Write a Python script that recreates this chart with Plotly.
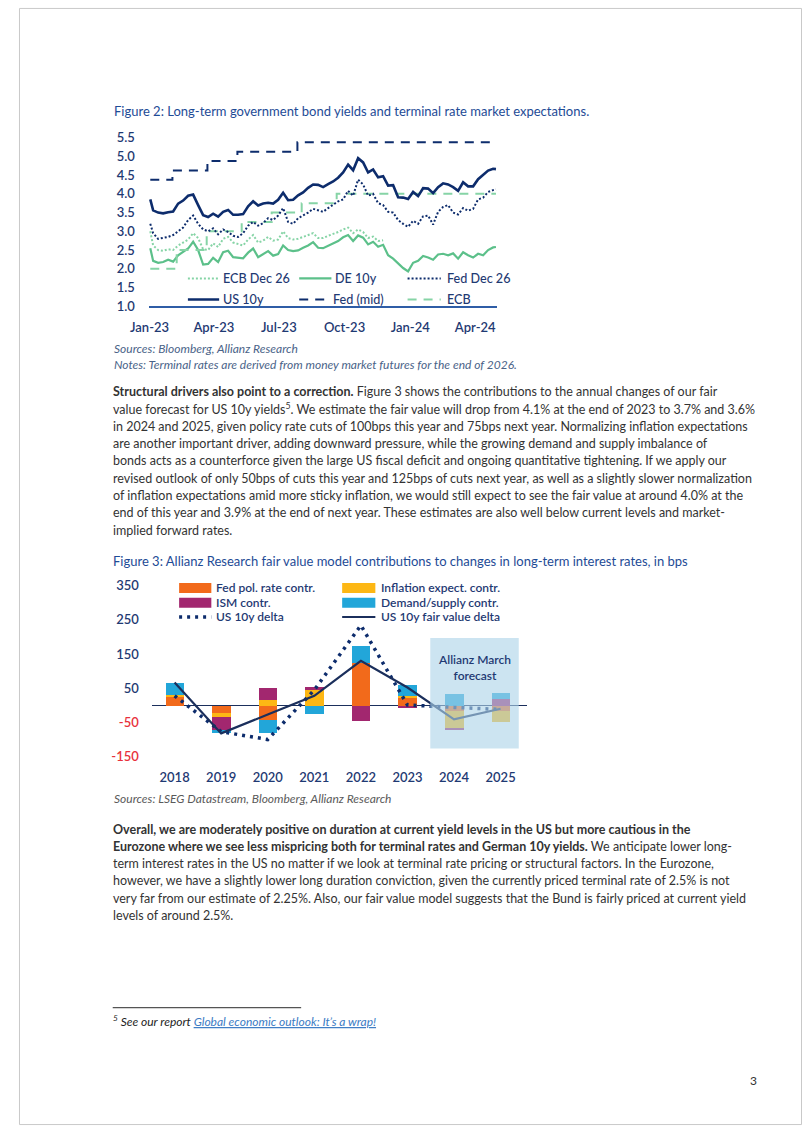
import plotly.graph_objects as go
import pandas as pd

W, H = 802, 1133
FONT = "Lato"
NAVY = "#0d2c6c"
NAVY_T = "#1f3a73"
GREEN = "#5cc08a"
GREEN_L = "#86d4a6"
TITLE_BLUE = "#1e4b96"
BODY = "#333333"


def X(p):
    return p / W


def Y(p):
    return 1 - p / H


# ---------------- Figure 2 data (weekly readings) ----------------
dates = (["2023-01-02"]
         + [d.strftime("%Y-%m-%d") for d in pd.date_range("2023-01-06", "2024-04-26", freq="W-FRI")]
         + ["2024-04-30"])

us10y = [3.85, 3.56, 3.50, 3.48, 3.51, 3.53, 3.74, 3.82, 3.95, 3.98, 3.70, 3.43, 3.38, 3.47, 3.39, 3.52,
         3.57, 3.44, 3.44, 3.46, 3.67, 3.80, 3.69, 3.74, 3.76, 3.74, 3.84, 4.03, 3.83, 3.84, 3.96, 4.04,
         4.16, 4.25, 4.24, 4.18, 4.26, 4.33, 4.43, 4.57, 4.78, 4.63, 4.95, 4.84, 4.57, 4.65, 4.44, 4.47,
         4.22, 4.23, 3.91, 3.90, 3.86, 4.05, 3.94, 4.15, 4.14, 4.02, 4.18, 4.28, 4.25, 4.18, 4.08, 4.31,
         4.20, 4.20, 4.39, 4.50, 4.62, 4.67, 4.66]

de10y = [2.55, 2.21, 2.16, 2.18, 2.24, 2.19, 2.36, 2.46, 2.54, 2.72, 2.50, 2.11, 2.13, 2.29, 2.18, 2.44,
         2.48, 2.31, 2.29, 2.28, 2.43, 2.54, 2.31, 2.38, 2.47, 2.35, 2.39, 2.62, 2.50, 2.47, 2.49, 2.56,
         2.62, 2.71, 2.56, 2.55, 2.61, 2.67, 2.74, 2.84, 2.90, 2.74, 2.89, 2.83, 2.65, 2.72, 2.59, 2.64,
         2.36, 2.27, 2.14, 2.02, 1.93, 2.16, 2.21, 2.34, 2.30, 2.24, 2.38, 2.40, 2.36, 2.41, 2.27, 2.44,
         2.36, 2.30, 2.40, 2.36, 2.50, 2.57, 2.58]

fed_dec26 = [3.20, 2.95, 2.80, 2.82, 2.85, 2.90, 3.00, 3.10, 3.30, 3.42, 3.20, 3.05, 3.00, 3.08, 2.92, 3.05,
             2.98, 2.88, 2.85, 2.95, 3.15, 3.25, 3.15, 3.22, 3.35, 3.30, 3.42, 3.62, 3.25, 3.20, 3.35, 3.42,
             3.50, 3.60, 3.55, 3.52, 3.62, 3.72, 3.80, 3.85, 4.08, 3.95, 4.38, 4.25, 3.95, 4.00, 3.75, 3.70,
             3.52, 3.50, 3.30, 3.20, 3.12, 3.28, 3.20, 3.40, 3.42, 3.18, 3.52, 3.65, 3.70, 3.50, 3.45, 3.62,
             3.55, 3.60, 3.85, 3.90, 4.05, 4.10, 4.12]

ecb_dec26 = [3.00, 2.62, 2.50, 2.48, 2.52, 2.50, 2.62, 2.70, 2.78, 2.95, 2.82, 2.52, 2.50, 2.68, 2.58, 2.80,
             2.85, 2.70, 2.65, 2.62, 2.78, 2.90, 2.70, 2.75, 2.85, 2.75, 2.78, 3.00, 2.82, 2.78, 2.80, 2.85,
             2.88, 2.95, 2.82, 2.82, 2.88, 2.92, 2.98, 3.05, 3.10, 2.95, 3.05, 2.98, 2.82, 2.86, 2.74, 2.76]

fed_mid_dates = ["2023-01-02", "2023-02-02", "2023-03-23", "2023-05-04", "2023-07-27", "2024-04-30"]
fed_mid = [4.375, 4.625, 4.875, 5.125, 5.375, 5.375]

ecb_dates = ["2023-01-02", "2023-02-08", "2023-03-22", "2023-05-10", "2023-06-21", "2023-08-02",
             "2023-09-20", "2024-04-30"]
ecb = [2.00, 2.50, 3.00, 3.25, 3.50, 3.75, 4.00, 4.00]

fig2_yticks = [1.0, 1.5, 2.0, 2.5, 3.0, 3.5, 4.0, 4.5, 5.0, 5.5]

# ---------------- Figure 3 data (bps) ----------------
years = ["2018", "2019", "2020", "2021", "2022", "2023", "2024", "2025"]
fed_contr = [27, -22, -42, 0, 125, 23, -15, -17]
infl_contr = [3, -12, 16, 46, 0, 5, -50, -31]
ism_contr = [0, -38, 36, 8, -46, -8, -8, 19]
demand_contr = [37, -9, -38, -25, 50, 32, 33, 19]
us10y_delta = [28, -77, -100, 45, 234, 1, -6, -12]
fair_value_delta = [67, -82, -27, 28, 130, 52, -41, -10]
fig3_yticks = [350, 250, 150, 50, -50, -150]

ORANGE = "#f26a1b"
YELLOW = "#fdb714"
PURPLE = "#a2276f"
CYAN = "#22a6d9"
RED = "#e8313c"

fig = go.Figure()

# ---- Figure 2 traces
fig.add_trace(go.Scatter(x=dates, y=de10y, mode="lines", name="DE 10y",
                         line=dict(color=GREEN, width=2.2), xaxis="x", yaxis="y"))
fig.add_trace(go.Scatter(x=dates[:len(ecb_dec26)], y=ecb_dec26, mode="lines", name="ECB Dec 26",
                         line=dict(color=GREEN_L, width=2, dash="2px,2px"), xaxis="x", yaxis="y"))
fig.add_trace(go.Scatter(x=ecb_dates, y=ecb, mode="lines", name="ECB", line_shape="hv",
                         line=dict(color=GREEN_L, width=2, dash="9px,7px"), xaxis="x", yaxis="y"))
fig.add_trace(go.Scatter(x=dates, y=fed_dec26, mode="lines", name="Fed Dec 26",
                         line=dict(color=NAVY, width=2, dash="2px,2px"), xaxis="x", yaxis="y"))
fig.add_trace(go.Scatter(x=fed_mid_dates, y=fed_mid, mode="lines", name="Fed (mid)", line_shape="hv",
                         line=dict(color=NAVY, width=2, dash="9px,7px"), xaxis="x", yaxis="y"))
fig.add_trace(go.Scatter(x=dates, y=us10y, mode="lines", name="US 10y",
                         line=dict(color=NAVY, width=2.6), xaxis="x", yaxis="y"))

# ---- Figure 3 traces
for name, vals, col in [("Fed pol. rate contr.", fed_contr, ORANGE),
                        ("Inflation expect. contr.", infl_contr, YELLOW),
                        ("ISM contr.", ism_contr, PURPLE),
                        ("Demand/supply contr.", demand_contr, CYAN)]:
    fig.add_trace(go.Bar(x=years, y=vals, name=name, marker=dict(color=col, line=dict(width=0)),
                         width=0.4, xaxis="x2", yaxis="y2"))
fig.add_trace(go.Scatter(x=years, y=us10y_delta, mode="lines", name="US 10y delta",
                         line=dict(color=NAVY, width=3.5, dash="3px,5px"), xaxis="x2", yaxis="y2"))
fig.add_trace(go.Scatter(x=years, y=fair_value_delta, mode="lines", name="US 10y fair value delta",
                         line=dict(color="#1b2f5c", width=2.2), xaxis="x2", yaxis="y2"))

shapes = []
annotations = []


def txt(x, y, s, size=12.5, color=BODY, weight=400, italic=False, xanchor="left"):
    annotations.append(dict(x=X(x), y=Y(y), xref="paper", yref="paper", text=s, showarrow=False,
                            xanchor=xanchor, yanchor="middle", align="left", borderpad=0,
                            font=dict(family=FONT, size=size, color=color, weight=weight,
                                      style="italic" if italic else "normal")))


def legline(x0, x1, y, color, width, dash="solid"):
    shapes.append(dict(type="line", xref="paper", yref="paper", x0=X(x0), x1=X(x1), y0=Y(y), y1=Y(y),
                       line=dict(color=color, width=width, dash=dash)))


def legbox(x0, x1, y, color):
    shapes.append(dict(type="rect", xref="paper", yref="paper", x0=X(x0), x1=X(x1), y0=Y(y - 5),
                       y1=Y(y + 5), fillcolor=color, line=dict(width=0)))


# page frame
shapes.append(dict(type="rect", xref="paper", yref="paper", x0=0.0006, x1=0.9994, y0=0.0004, y1=0.9996,
                   line=dict(color="#c9c9c9", width=1)))

# ---- Figure 2 text + legend
txt(96, 104, "Figure 2: Long-term government bond yields and terminal rate market expectations.", 13,
    TITLE_BLUE)
LG = dict(size=12.6, color=NAVY_T, weight=500)
legline(173, 205, 274.3, GREEN_L, 2, "2px,2px")
txt(208, 274.3, "ECB Dec 26", **LG)
legline(287, 320, 274.3, GREEN, 2.2)
txt(323, 274.3, "DE 10y", **LG)
legline(398, 432, 274.3, NAVY, 2, "2px,2px")
txt(437, 274.3, "Fed Dec 26", **LG)
legline(173, 205, 295.7, NAVY, 2.6)
txt(208, 295.7, "US 10y", **LG)
legline(287, 317, 295.7, NAVY, 2, "9px,7px")
txt(321, 295.7, "Fed (mid)", **LG)
legline(398, 432, 295.7, GREEN_L, 2, "9px,7px")
txt(437, 295.7, "ECB", **LG)

txt(96, 345, "Sources: Bloomberg, Allianz Research", 12, "#4a6388", italic=True)
txt(96, 362, "Notes: Terminal rates are derived from money market futures for the end of 2026.", 12,
    "#4a6388", italic=True)

# ---- Paragraph 1
para1 = [
    "<b>Structural drivers also point to a correction.</b> Figure 3 shows the contributions to the annual changes of our fair",
    "value forecast for US 10y yields<sup>5</sup>. We estimate the fair value will drop from 4.1% at the end of 2023 to 3.7% and 3.6%",
    "in 2024 and 2025, given policy rate cuts of 100bps this year and 75bps next year. Normalizing inflation expectations",
    "are another important driver, adding downward pressure, while the growing demand and supply imbalance of",
    "bonds acts as a counterforce given the large US fiscal deficit and ongoing quantitative tightening. If we apply our",
    "revised outlook of only 50bps of cuts this year and 125bps of cuts next year, as well as a slightly slower normalization",
    "of inflation expectations amid more sticky inflation, we would still expect to see the fair value at around 4.0% at the",
    "end of this year and 3.9% at the end of next year. These estimates are also well below current levels and market-",
    "implied forward rates.",
]
for i, line in enumerate(para1):
    txt(95, 389 + i * 17.6, line)

# ---- Figure 3 text + legend
txt(95, 561, "Figure 3: Allianz Research fair value model contributions to changes in long-term interest rates, in bps",
    13, TITLE_BLUE)
LG3 = dict(size=12, color=NAVY_T, weight=600)
legbox(164, 197, 588.3, ORANGE)
txt(201, 588.3, "Fed pol. rate contr.", **LG3)
legbox(331, 365, 588.3, YELLOW)
txt(370, 588.3, "Inflation expect. contr.", **LG3)
legbox(164, 197, 603.3, PURPLE)
txt(201, 603.3, "ISM contr.", **LG3)
legbox(331, 365, 603.3, CYAN)
txt(370, 603.3, "Demand/supply contr.", **LG3)
legline(164, 197, 617.7, NAVY, 3.5, "3px,5px")
txt(201, 617.7, "US 10y delta", **LG3)
legline(331, 365, 617.7, "#1b2f5c", 2.2)
txt(370, 617.7, "US 10y fair value delta", **LG3)

# forecast box (overlay, data coords of figure 3)
shapes.append(dict(type="rect", xref="x2", yref="y2", x0=5.49, x1=7.39, y0=-126, y1=197,
                   fillcolor="rgba(172,211,232,0.62)", line=dict(width=0), layer="above"))
annotations.append(dict(x=6.44, xref="x2", y=Y(668.5), yref="paper", text="Allianz March<br>forecast",
                        showarrow=False, xanchor="center", yanchor="middle", align="center",
                        font=dict(family=FONT, size=12, color=NAVY_T, weight=600)))

txt(96, 802, "Sources: LSEG Datastream, Bloomberg, Allianz Research", 12, "#5a5a5a", italic=True)

# ---- Paragraph 2
para2 = [
    "<b>Overall, we are moderately positive on duration at current yield levels in the US but more cautious in the</b>",
    "<b>Eurozone where we see less mispricing both for terminal rates and German 10y yields.</b> We anticipate lower long-",
    "term interest rates in the US no matter if we look at terminal rate pricing or structural factors. In the Eurozone,",
    "however, we have a slightly lower long duration conviction, given the currently priced terminal rate of 2.5% is not",
    "very far from our estimate of 2.25%. Also, our fair value model suggests that the Bund is fairly priced at current yield",
    "levels of around 2.5%.",
]
for i, line in enumerate(para2):
    txt(95, 833 + i * 17.5, line)

# ---- Footnote
shapes.append(dict(type="line", xref="paper", yref="paper", x0=X(96), x1=X(289), y0=Y(1014), y1=Y(1014),
                   line=dict(color="#555555", width=1.2)))
txt(95, 1028, "<sup>5</sup> See our report <span style='color:#3b7bc4'><u>Global economic outlook: It’s a wrap!</u></span>",
    12, "#222222", italic=True)
txt(748, 1088, "3", 12, BODY)

fig.update_layout(
    width=W, height=H, autosize=False,
    margin=dict(l=0, r=0, t=0, b=0),
    paper_bgcolor="white", plot_bgcolor="rgba(0,0,0,0)",
    showlegend=False, barmode="relative", bargap=0,
    font=dict(family=FONT),
    shapes=shapes, annotations=annotations,
    xaxis=dict(domain=[X(133), X(490)], anchor="y", type="date",
               range=["2022-12-31", "2024-05-02"], tick0="2023-01-01", dtick="M3", tickformat="%b-%y",
               showgrid=False, zeroline=False, showline=True, linecolor="#2f5da6", linewidth=1.6,
               ticks="", ticklabelstandoff=8,
               tickfont=dict(family=FONT, size=13, color=NAVY_T, weight=600)),
    yaxis=dict(domain=[Y(302.5), Y(131.5)], anchor="x", range=[1.0, 5.5],
               tickvals=fig2_yticks, tickformat=".1f",
               showgrid=False, zeroline=False, showline=False, ticks="", ticklabelstandoff=13,
               tickfont=dict(family=FONT, size=13, color=NAVY_T, weight=600)),
    xaxis2=dict(domain=[X(136), X(520)], anchor="y2", type="category", range=[-0.49, 7.56],
                showgrid=False, zeroline=False, showline=False, ticks="", ticklabelstandoff=3,
                tickfont=dict(family=FONT, size=13, color=NAVY_T, weight=600)),
    yaxis2=dict(domain=[Y(768), Y(578)], anchor="x2", range=[-175, 373],
                tickvals=fig3_yticks,
                ticktext=[str(v) if v > 0 else f"<span style='color:{RED}'>{v}</span>" for v in fig3_yticks],
                showgrid=False, zeroline=True, zerolinecolor="#1b2f5c", zerolinewidth=1.2,
                showline=False, ticks="", ticklabelstandoff=12,
                tickfont=dict(family=FONT, size=13, color=NAVY_T, weight=600)),
)

POST = ("var s=document.createElement('style');"
        "s.textContent='html,body{margin:0 !important;padding:0 !important;overflow:hidden !important;}';"
        "document.head.appendChild(s);"
        "var gd=document.getElementById('{plot_id}');"
        "gd.style.position='fixed';gd.style.left='0px';gd.style.top='0px';")

fig.write_html("out.html", config={"displayModeBar": False}, post_script=POST)
